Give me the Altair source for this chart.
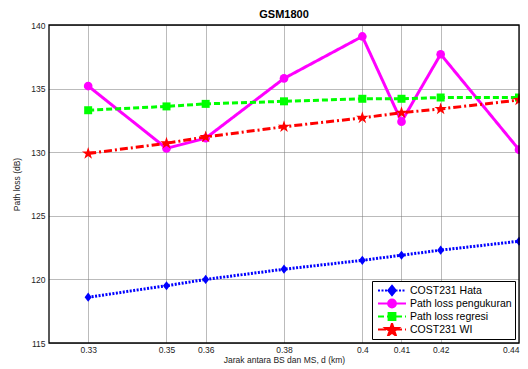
import math
import altair as alt
import pandas as pd

# ---- data ----
jarak = [0.33, 0.35, 0.36, 0.38, 0.40, 0.41, 0.42, 0.44]
hata = [118.6, 119.5, 120.0, 120.8, 121.5, 121.9, 122.3, 123.0]
pengukuran = [135.2, 130.3, 131.1, 135.8, 139.1, 132.4, 137.7, 130.2]
regresi = [133.3, 133.6, 133.8, 134.0, 134.2, 134.2, 134.3, 134.3]
wi = [129.9, 130.7, 131.2, 132.0, 132.7, 133.1, 133.4, 134.1]

names = ["COST231 Hata", "Path loss pengukuran", "Path loss regresi", "COST231 WI"]
values = [hata, pengukuran, regresi, wi]
colors = ["#0000FF", "#FF00FF", "#00FF00", "#FF0000"]
dashes = [[2, 1.5], [1, 0], [6, 3], [8, 3, 2, 3]]
y_ticks = [115, 120, 125, 130, 135, 140]
x_domain = [0.32, 0.44]
y_domain = [115, 140]

rows = []
for n, vals in zip(names, values):
    for d, v in zip(jarak, vals):
        rows.append({"jarak": d, "pl": v, "seri": n})
df = pd.DataFrame(rows)


# ---- symbol paths ----
def star_pts(cx, cy, R, ratio=0.382):
    pts = []
    for k in range(10):
        a = math.radians(-90 + 36 * k)
        r = R if k % 2 == 0 else R * ratio
        pts.append((cx + r * math.cos(a), cy + r * math.sin(a)))
    return pts


def poly(pts):
    return "M" + " L".join(f"{x:.3f},{y:.3f}" for x, y in pts) + " Z"


STAR = poly(star_pts(0, 0, 1))
DIAMOND = "M0,-1.1 L0.85,0 L0,1.1 L-0.85,0 Z"

# legend symbols: unit = 4px (symbolSize 64)
U = 4.0


def dash_line(x0, x1, pattern):
    segs = []
    x = x0
    i = 0
    on = True
    while x < x1:
        ln = pattern[i % len(pattern)]
        xe = min(x + ln, x1)
        if on and xe > x:
            segs.append(f"M{x / U:.3f},0 L{xe / U:.3f},0")
        x = xe
        on = not on
        i += 1
    return " ".join(segs)


LX0, LX1, MC = -2.5, 25.5, 11.5
leg_paths = []
for i, n in enumerate(names):
    if i == 1:
        line = f"M{LX0 / U:.3f},0 L{LX1 / U:.3f},0"
    else:
        line = dash_line(LX0, LX1, dashes[i])
    c = MC / U
    if i == 0:
        m = poly([(c, -4.5 / U), (c + 3.6 / U, 0), (c, 4.5 / U), (c - 3.6 / U, 0)])
    elif i == 1:
        r = 3.8 / U
        m = f"M{c + r:.3f},0 A{r:.3f},{r:.3f} 0 1,1 {c - r:.3f},0 A{r:.3f},{r:.3f} 0 1,1 {c + r:.3f},0 Z"
    elif i == 2:
        h = 3.3 / U
        m = poly([(c - h, -h), (c + h, -h), (c + h, h), (c - h, h)])
    else:
        m = poly(star_pts(c, 0.7 / U, 6.5 / U))
    leg_paths.append(line + " " + m)

marker_shapes = [DIAMOND, "circle", "square", STAR]
marker_sizes = [70, 75, 64, 170]

xs = alt.Scale(domain=x_domain, nice=False, zero=False)
ys = alt.Scale(domain=y_domain, nice=False, zero=False)

x_enc = alt.X(
    "jarak:Q",
    scale=xs,
    axis=alt.Axis(
        values=jarak,
        format="~g",
        title="Jarak antara BS dan MS, d (km)",
    ),
)
y_enc = alt.Y(
    "pl:Q",
    scale=ys,
    axis=alt.Axis(values=y_ticks, title="Path loss (dB)"),
)

layers = []
for i, n in enumerate(names):
    sub = alt.Chart(df).transform_filter(alt.datum.seri == n)
    line = sub.mark_line(
        color=colors[i], strokeWidth=3, strokeDash=dashes[i]
    ).encode(x=x_enc, y=y_enc)
    pts = sub.mark_point(
        filled=True,
        color=colors[i],
        opacity=1,
        shape=marker_shapes[i],
        size=marker_sizes[i],
        strokeWidth=0,
    ).encode(x=x_enc, y=y_enc)
    layers += [line, pts]

legend_layer = (
    alt.Chart(df)
    .transform_filter(alt.datum.pl > 1000)
    .mark_point(filled=True, opacity=1)
    .encode(
        x=x_enc,
        y=y_enc,
        fill=alt.Fill("seri:N", scale=alt.Scale(domain=names, range=colors), title=None),
        stroke=alt.Stroke("seri:N", scale=alt.Scale(domain=names, range=colors), title=None),
        shape=alt.Shape(
            "seri:N",
            scale=alt.Scale(domain=names, range=leg_paths),
            title=None,
            legend=alt.Legend(
                orient="bottom-right",
                offset=4,
                clipHeight=13,
                symbolSize=64,
                symbolStrokeWidth=2.2,
                labelOffset=24,
                labelFontSize=10.5,
                labelFont="Liberation Sans",
                labelColor="#000",
                padding=3,
                rowPadding=0,
                fillColor="white",
                strokeColor="black",
            ),
        ),
    )
)

edge_df = pd.DataFrame(
    {"x0": [x_domain[0]], "x1": [x_domain[1]], "y0": [y_domain[0]], "y1": [y_domain[1]]}
)
frame = (
    alt.Chart(edge_df)
    .mark_rect(fillOpacity=0, stroke="#000000", strokeWidth=1.3)
    .encode(
        x=alt.X("x0:Q", scale=xs),
        x2="x1:Q",
        y=alt.Y("y0:Q", scale=ys),
        y2="y1:Q",
    )
)

chart = (
    alt.layer(*layers, frame, legend_layer)
    .properties(
        width=470,
        height=318,
        title=alt.TitleParams(
            "GSM1800", fontSize=11, fontWeight="bold", font="Liberation Sans", offset=1.5, color="#000"
        ),
        autosize=alt.AutoSizeParams(type="none"),
        padding={"left": 41, "top": 17, "right": 1, "bottom": 28},
    )
    .configure_view(stroke=None)
    .configure_axis(
        domain=False,
        ticks=False,
        grid=True,
        gridColor="#777",
        gridDash=[1, 1],
        gridWidth=1,
        labelFont="Liberation Sans",
        labelFontSize=8.5,
        labelColor="#222",
        labelPadding=4,
        titleFont="Liberation Sans",
        titleFontSize=8.5,
        titleFontWeight="normal",
        titleColor="#222",
    )
    .configure_axisX(titlePadding=2, labelPadding=2)
    .configure_axisY(titlePadding=9)
)

chart.save("out.html", embed_options={"renderer": "svg", "actions": False})
